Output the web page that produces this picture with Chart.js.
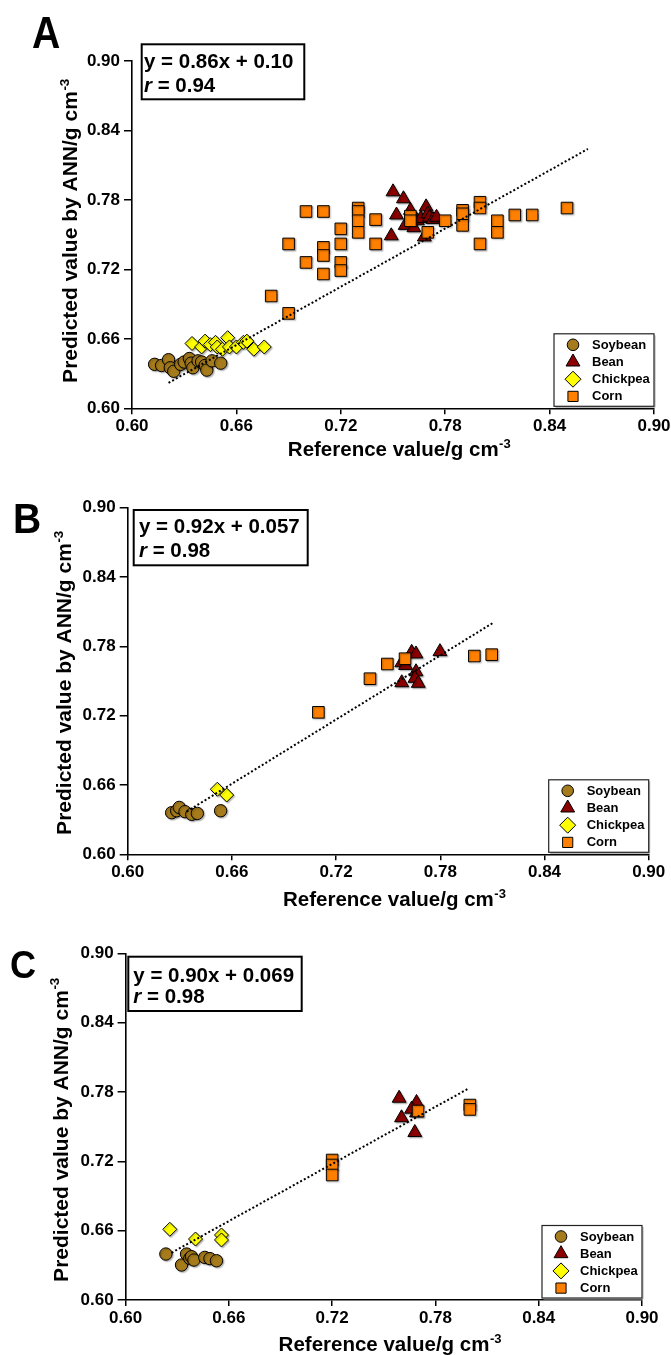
<!DOCTYPE html>
<html>
<head>
<meta charset="utf-8">
<script src="https://cdn.jsdelivr.net/npm/chart.js@4.4.1/dist/chart.umd.min.js"></script>
<style>
html,body{margin:0;padding:0;background:#fff;}
body{width:671px;height:1355px;position:relative;overflow:hidden;}
canvas{position:absolute;left:0;}
</style>
</head>
<body>
<canvas id="cA" width="671" height="470" style="top:0px"></canvas>
<canvas id="cB" width="671" height="470" style="top:447px"></canvas>
<canvas id="cC" width="671" height="461" style="top:894px"></canvas>
<script>
// ---------------- DATA ----------------
const tickValues = [0.60, 0.66, 0.72, 0.78, 0.84, 0.90];
const tickLabels = ['0.60', '0.66', '0.72', '0.78', '0.84', '0.90'];
const seriesNames = ['Soybean', 'Bean', 'Chickpea', 'Corn'];
const xTitleText = 'Reference value/g cm';
const yTitleText = 'Predicted value by ANN/g cm';
const titleSup = '-3';

// Panel A
const soybeanA = [[0.613,0.638],[0.617,0.637],[0.621,0.642],[0.622,0.635],[0.624,0.632],[0.628,0.638],[0.630,0.640],[0.633,0.643],[0.634,0.639],[0.635,0.635],[0.638,0.641],[0.640,0.640],[0.642,0.637],[0.643,0.633],[0.646,0.641],[0.651,0.639]];
const beanA = [[0.750,0.787],[0.756,0.781],[0.752,0.767],[0.749,0.749],[0.757,0.758],[0.760,0.771],[0.762,0.756],[0.764,0.762],[0.766,0.764],[0.768,0.748],[0.769,0.774],[0.770,0.768],[0.771,0.765],[0.773,0.763],[0.775,0.765]];
const chickpeaA = [[0.6345,0.656],[0.640,0.653],[0.642,0.658],[0.645,0.655],[0.648,0.657],[0.649,0.653],[0.652,0.651],[0.655,0.661],[0.656,0.653],[0.660,0.653],[0.664,0.657],[0.666,0.658],[0.670,0.651],[0.676,0.653]];
const cornA = [[0.680,0.697],[0.690,0.682],[0.690,0.742],[0.700,0.770],[0.700,0.726],[0.710,0.770],[0.710,0.739],[0.710,0.732],[0.710,0.716],[0.720,0.755],[0.720,0.742],[0.720,0.726],[0.720,0.719],[0.730,0.773],[0.730,0.770],[0.730,0.762],[0.730,0.752],[0.740,0.763],[0.740,0.742],[0.760,0.766],[0.760,0.762],[0.770,0.752],[0.780,0.762],[0.790,0.771],[0.790,0.768],[0.790,0.758],[0.800,0.778],[0.800,0.773],[0.800,0.742],[0.810,0.762],[0.810,0.752],[0.820,0.767],[0.830,0.767],[0.850,0.773]];
const trendA = [[0.621,0.622],[0.862,0.824]];
const equationA = 'y = 0.86x + 0.10';
const rValueA = '0.94';

// Panel B
const soybeanB = [[0.6253,0.636],[0.6282,0.6377],[0.6297,0.6406],[0.633,0.6369],[0.6369,0.6346],[0.6401,0.6354],[0.6535,0.6377]];
const beanB = [[0.7635,0.7748],[0.766,0.7734],[0.7798,0.7754],[0.7578,0.7658],[0.760,0.7635],[0.766,0.758],[0.7654,0.7523],[0.7578,0.7485],[0.7673,0.748]];
const chickpeaB = [[0.6516,0.6563],[0.657,0.6513]];
const cornB = [[0.7098,0.7229],[0.7395,0.752],[0.7495,0.7647],[0.7597,0.7693],[0.7996,0.7716],[0.8096,0.7728]];
const trendB = [[0.634,0.637],[0.810,0.800]];
const equationB = 'y = 0.92x + 0.057';
const rValueB = '0.98';

// Panel C
const soybeanC = [[0.6234,0.6398],[0.6325,0.6303],[0.6354,0.6398],[0.6373,0.6361],[0.6383,0.6375],[0.6397,0.6346],[0.646,0.6369],[0.649,0.6358],[0.6528,0.634]];
const beanC = [[0.7589,0.7747],[0.769,0.771],[0.7661,0.7652],[0.7603,0.7578],[0.768,0.745],[0.769,0.762]];
const chickpeaC = [[0.6257,0.6612],[0.6406,0.6528],[0.6557,0.6563],[0.6557,0.652]];
const cornC = [[0.7699,0.7636],[0.800,0.7688],[0.800,0.765],[0.720,0.7212],[0.720,0.7169],[0.720,0.7082]];
const trendC = [[0.6267,0.6409],[0.7995,0.7833]];
const equationC = 'y = 0.90x + 0.069';
const rValueC = '0.98';

// ---------------- STYLE ----------------
const FONT = "'Liberation Sans', Arial, Helvetica, sans-serif";
const X_AXIS_H = 45;
const seriesStyle = {
  Soybean:  {pointStyle: 'circle',  radius: 6.2, color: '#A67B1B', legendRadius: 5.8},
  Bean:     {pointStyle: 'triangle', radius: 8,  color: '#8B0000', legendRadius: 8},
  Chickpea: {pointStyle: 'rectRot', radius: 7,   color: '#FFFF00', legendRadius: 8},
  Corn:     {pointStyle: 'rect',    radius: 8.2, color: '#FF8000', legendRadius: 7.2}
};

const toXY = arr => arr.map(p => ({x: p[0], y: p[1]}));

function scatterSet(name, arr) {
  const s = seriesStyle[name];
  return {
    type: 'scatter', label: name, data: toXY(arr),
    pointStyle: s.pointStyle, pointRadius: s.radius, pointHoverRadius: s.radius,
    backgroundColor: s.color, borderColor: '#000', borderWidth: 1, pointBorderWidth: 1
  };
}
function trendSet(arr) {
  return {
    type: 'line', label: 'fit', data: toXY(arr), showLine: true,
    pointRadius: 0, borderColor: '#000', borderWidth: 2, borderDash: [2, 2.2],
    fill: false, tension: 0
  };
}

const decor = {
  id: 'decor',
  beforeDatasetDraw(chart, args) {
    const ctx = chart.ctx;
    ctx.save();
    if (args.meta.type === 'scatter') {
      ctx.shadowColor = 'rgba(0,0,0,0.28)';
      ctx.shadowOffsetX = 1.2; ctx.shadowOffsetY = 1.2; ctx.shadowBlur = 1.5;
    }
  },
  afterDatasetDraw(chart) { chart.ctx.restore(); },
  afterDraw(chart, args, o) {
    const ctx = chart.ctx, ca = chart.chartArea;
    ctx.save();
    ctx.fillStyle = '#000';
    ctx.textAlign = 'left';
    ctx.textBaseline = 'alphabetic';
    // panel letter
    ctx.save();
    ctx.font = `bold ${o.letterSize}px ${FONT}`;
    ctx.translate(o.letterX, o.letterY);
    ctx.scale(o.letterScaleX, 1);
    ctx.fillText(o.letter, 0, 0);
    ctx.restore();
    // equation box
    const b = o.eqBox;
    ctx.fillStyle = '#fff';
    ctx.fillRect(b.x, b.y, b.w, b.h);
    ctx.lineWidth = 2; ctx.strokeStyle = '#000';
    ctx.strokeRect(b.x, b.y, b.w, b.h);
    ctx.fillStyle = '#000';
    ctx.font = `bold 20.5px ${FONT}`;
    ctx.fillText(o.equation, b.tx, b.y + b.b1);
    ctx.font = `italic bold 20.5px ${FONT}`;
    ctx.fillText('r', b.tx, b.y + b.b2);
    const rw = ctx.measureText('r').width;
    ctx.font = `bold 20.5px ${FONT}`;
    ctx.fillText(' = ' + o.rValue, b.tx + rw, b.y + b.b2);
    // legend
    const lw = 100, lh = 72.5;
    const lx = ca.right - lw, ly = ca.bottom - 2 - lh;
    ctx.fillStyle = '#fff';
    ctx.fillRect(lx, ly, lw, lh);
    ctx.strokeStyle = '#aaa'; ctx.lineWidth = 1;
    ctx.beginPath(); ctx.moveTo(lx + 1.5, ly + lh + 1); ctx.lineTo(lx + lw + 1, ly + lh + 1); ctx.lineTo(lx + lw + 1, ly + 1.5); ctx.stroke();
    ctx.strokeStyle = '#222'; ctx.lineWidth = 1.2;
    ctx.strokeRect(lx, ly, lw, lh);
    seriesNames.forEach((name, i) => {
      const s = seriesStyle[name];
      const cy = ly + 11 + i * 17.2;
      ctx.fillStyle = s.color; ctx.strokeStyle = '#000'; ctx.lineWidth = 1;
      Chart.helpers.drawPoint(ctx, {pointStyle: s.pointStyle, radius: s.legendRadius, rotation: 0, borderWidth: 1}, lx + 19, cy);
      ctx.fillStyle = '#000';
      ctx.font = `bold 13px ${FONT}`;
      ctx.textBaseline = 'middle';
      ctx.fillText(name, lx + 38, cy + 0.5);
    });
    ctx.textBaseline = 'alphabetic';
    ctx.fillStyle = '#000';
    // x title
    ctx.font = `bold 20.5px ${FONT}`;
    const w1 = ctx.measureText(xTitleText).width;
    ctx.font = `bold 13px ${FONT}`;
    const w2 = ctx.measureText(titleSup).width;
    const cx = (ca.left + ca.right) / 2 + 6;
    const sx = cx - (w1 + w2) / 2;
    ctx.font = `bold 20.5px ${FONT}`;
    ctx.fillText(xTitleText, sx, ca.bottom + o.xTitleDy);
    ctx.font = `bold 13px ${FONT}`;
    ctx.fillText(titleSup, sx + w1 + 0.5, ca.bottom + o.xTitleDy - 8);
    // y title
    ctx.save();
    ctx.translate(o.yTitleX, o.yTitleCY);
    ctx.rotate(-Math.PI / 2);
    ctx.font = `bold 21px ${FONT}`;
    const v1 = ctx.measureText(yTitleText).width;
    ctx.font = `bold 13.5px ${FONT}`;
    const v2 = ctx.measureText(titleSup).width;
    const st = -(v1 + v2) / 2;
    ctx.font = `bold 21px ${FONT}`;
    ctx.fillText(yTitleText, st, 0);
    ctx.font = `bold 13.5px ${FONT}`;
    ctx.fillText(titleSup, st + v1 + 0.5, -8.5);
    ctx.restore();
    ctx.restore();
  }
};

function makeChart(id, geo, series, trend, deco) {
  const canvas = document.getElementById(id);
  const tickFont = {family: FONT, size: 17, weight: 'bold'};
  return new Chart(canvas, {
    data: {
      datasets: [
        trendSet(trend),
        scatterSet('Corn', series.corn),
        scatterSet('Bean', series.bean),
        scatterSet('Chickpea', series.chickpea),
        scatterSet('Soybean', series.soybean)
      ]
    },
    options: {
      responsive: false, animation: false, devicePixelRatio: 1,
      events: [],
      layout: {padding: {left: 0, right: canvas.width - geo.right, top: geo.top, bottom: canvas.height - geo.bottom - X_AXIS_H}},
      plugins: {
        legend: {display: false}, tooltip: {enabled: false}, title: {display: false},
        decor: deco
      },
      scales: {
        x: {
          type: 'linear', position: 'bottom', min: tickValues[0], max: tickValues[tickValues.length - 1],
          afterBuildTicks: s => { s.ticks = tickValues.map(v => ({value: v})); },
          ticks: {callback: (v, i) => tickLabels[i], font: tickFont, color: '#000', padding: 2, maxRotation: 0, autoSkip: false},
          grid: {drawOnChartArea: false, drawTicks: true, tickLength: 6, color: '#000', lineWidth: 1.5},
          border: {display: true, color: '#000', width: 1.6},
          afterFit: s => { s.height = X_AXIS_H; s.paddingLeft = 0; s.paddingRight = 0; }
        },
        y: {
          type: 'linear', position: 'left', min: tickValues[0], max: tickValues[tickValues.length - 1],
          afterBuildTicks: s => { s.ticks = tickValues.map(v => ({value: v})); },
          ticks: {callback: (v, i) => tickLabels[i], font: tickFont, color: '#000', padding: 4, autoSkip: false},
          grid: {drawOnChartArea: false, drawTicks: true, tickLength: 8, color: '#000', lineWidth: 1.5},
          border: {display: true, color: '#000', width: 1.6},
          afterFit: s => { s.width = geo.left; s.paddingTop = 0; s.paddingBottom = 0; }
        }
      }
    },
    plugins: [decor]
  });
}

makeChart('cA', {left: 132, right: 654, top: 61, bottom: 408.3},
  {soybean: soybeanA, bean: beanA, chickpea: chickpeaA, corn: cornA}, trendA,
  {letter: 'A', letterSize: 45, letterX: 32, letterY: 48, letterScaleX: 0.87,
   equation: equationA, rValue: rValueA,
   eqBox: {x: 141.7, y: 44.3, w: 162.6, h: 55, tx: 144, b1: 24, b2: 47.4},
   xTitleDy: 48, yTitleX: 77, yTitleCY: 231});

makeChart('cB', {left: 127.7, right: 648.7, top: 60.7, bottom: 407.3},
  {soybean: soybeanB, bean: beanB, chickpea: chickpeaB, corn: cornB}, trendB,
  {letter: 'B', letterSize: 42, letterX: 13, letterY: 86, letterScaleX: 0.93,
   equation: equationB, rValue: rValueB,
   eqBox: {x: 133.7, y: 63, w: 174, h: 55.3, tx: 139, b1: 22.7, b2: 47.3},
   xTitleDy: 51.5, yTitleX: 71, yTitleCY: 236});

makeChart('cC', {left: 125.6, right: 642, top: 59.5, bottom: 406},
  {soybean: soybeanC, bean: beanC, chickpea: chickpeaC, corn: cornC}, trendC,
  {letter: 'C', letterSize: 38, letterX: 10, letterY: 84, letterScaleX: 0.95,
   equation: equationC, rValue: rValueC,
   eqBox: {x: 128.3, y: 62.7, w: 173.4, h: 54.3, tx: 133.3, b1: 25, b2: 46.6},
   xTitleDy: 50.5, yTitleX: 67.5, yTitleCY: 236});
</script>
</body>
</html>
